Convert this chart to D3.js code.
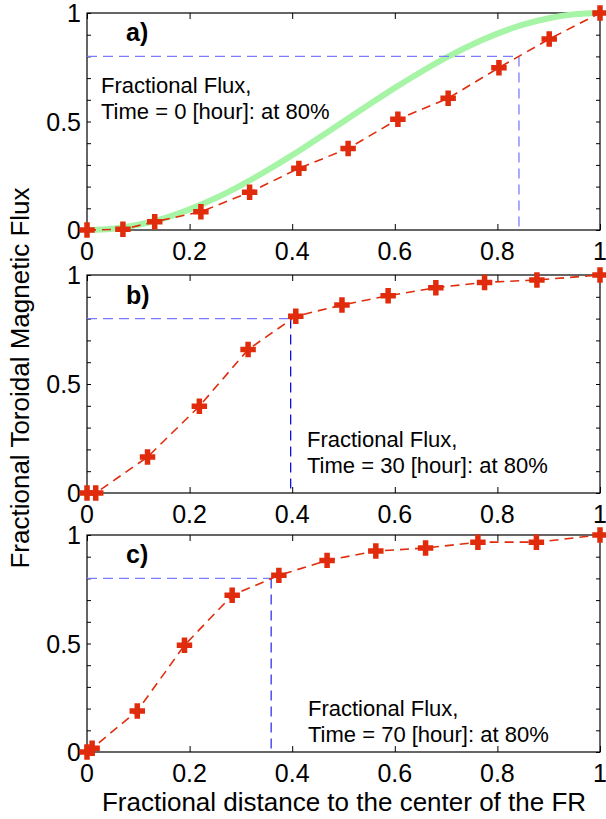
<!DOCTYPE html>
<html>
<head>
<meta charset="utf-8">
<script src="https://cdn.jsdelivr.net/npm/d3@7"></script>
<style>
  body { margin: 0; background: #fff; }
  text { font-family: "Liberation Sans", Arial, sans-serif; }
</style>
</head>
<body>
<div id="chart"></div>
<script>
// Chart data
const xA = [0, 0.07, 0.132, 0.222, 0.317, 0.413, 0.509, 0.606, 0.704, 0.803, 0.901, 1.0]
const yA = [0, 0.003, 0.038, 0.084, 0.174, 0.284, 0.376, 0.51, 0.607, 0.748, 0.88, 1.0]

const xB = [0, 0.017, 0.118, 0.219, 0.314, 0.407, 0.497, 0.587, 0.68, 0.775, 0.877, 1.0]
const yB = [0, 0, 0.165, 0.398, 0.658, 0.811, 0.862, 0.905, 0.942, 0.966, 0.977, 1.0]

const xC = [0, 0.01, 0.098, 0.19, 0.283, 0.374, 0.468, 0.563, 0.66, 0.762, 0.876, 1.0]
const yC = [0, 0.017, 0.189, 0.492, 0.722, 0.814, 0.883, 0.926, 0.94, 0.967, 0.967, 1.0]

// smooth green reference curve in panel a
const xGreen = [0, 0.05, 0.1, 0.15, 0.2, 0.25, 0.3, 0.35, 0.4, 0.45, 0.5, 0.55, 0.6, 0.65, 0.7, 0.75, 0.8, 0.85, 0.9, 0.95, 1.0]
const yGreen = [0, 0.006, 0.024, 0.054, 0.095, 0.146, 0.206, 0.273, 0.345, 0.422, 0.5, 0.578, 0.655, 0.727, 0.794, 0.854, 0.905, 0.946, 0.976, 0.994, 1.0]

// 80% crossing point of each panel
const crossX = [0.842, 0.397, 0.359]
const crossY = 0.8

const panelNames = ["a)", "b)", "c)"]
const hours = [0, 30, 70]
const xTicks = [0, 0.2, 0.4, 0.6, 0.8, 1]
const yTicks = [0, 0.5, 1]
const yTickLabels = ["0", "0.5", "1"]

const svgWidth = 606
const svgHeight = 819

let svg = d3
  .select("#chart")
  .append("svg")
  .attr("width", svgWidth)
  .attr("height", svgHeight)

let xScale = d3.scaleLinear().domain([0, 1]).range([87, 600])

// pixel extents of the three panels
const panels = [
  { top: 13, bottom: 230, xs: xA, ys: yA, noteX: 101, noteY: 93, labelY: 41, vColor: "#7b7bff" },
  { top: 275, bottom: 493, xs: xB, ys: yB, noteX: 307, noteY: 447, labelY: 304, vColor: "#1010dd" },
  { top: 535, bottom: 752, xs: xC, ys: yC, noteX: 308, noteY: 716, labelY: 563, vColor: "#3535f0" }
]

const red = "#e02c0c"

panels.forEach((p, i) => {
  let yScale = d3.scaleLinear().domain([0, 1]).range([p.bottom, p.top])
  let g = svg.append("g")

  // frame
  g.append("rect")
    .attr("x", xScale(0))
    .attr("y", yScale(1))
    .attr("width", xScale(1) - xScale(0))
    .attr("height", yScale(0) - yScale(1))
    .attr("fill", "none")
    .attr("stroke", "#000")
    .attr("stroke-width", 1.2)

  // axes with inward ticks
  let minorY = d3.range(0, 11).map(d => d / 10)
  g.append("g")
    .attr("transform", `translate(0, ${p.bottom})`)
    .call(d3.axisTop(xScale).tickValues(xTicks).tickSize(6).tickFormat(""))
  g.append("g")
    .attr("transform", `translate(0, ${p.top})`)
    .call(d3.axisBottom(xScale).tickValues(xTicks).tickSize(6).tickFormat(""))
  g.append("g")
    .attr("transform", `translate(${xScale(0)}, 0)`)
    .call(d3.axisRight(yScale).tickValues(minorY).tickSize(4).tickFormat(""))
  g.append("g")
    .attr("transform", `translate(${xScale(1)}, 0)`)
    .call(d3.axisLeft(yScale).tickValues(minorY).tickSize(4).tickFormat(""))
  g.selectAll(".domain").remove()
  g.selectAll(".tick line").attr("stroke", "#000")

  // tick labels
  g.selectAll(".xlab")
    .data(xTicks)
    .enter()
    .append("text")
    .attr("x", d => xScale(d))
    .attr("y", p.bottom + 30)
    .attr("text-anchor", "middle")
    .attr("font-size", 25)
    .text(d => d === 0 ? "0" : d === 1 ? "1" : d3.format(".1f")(d))
  g.selectAll(".ylab")
    .data(yTicks)
    .enter()
    .append("text")
    .attr("x", xScale(0) - 6)
    .attr("y", d => yScale(d) + 9)
    .attr("text-anchor", "end")
    .attr("font-size", 25)
    .text((d, j) => yTickLabels[j])

  // green curve only in panel a
  if (i === 0) {
    g.append("path")
      .datum(xGreen.map((x, j) => [x, yGreen[j]]))
      .attr("fill", "none")
      .attr("stroke", "#a6f5a6")
      .attr("stroke-width", 6)
      .attr("d", d3.line().x(d => xScale(d[0])).y(d => yScale(d[1])).curve(d3.curveMonotoneX))
  }

  // blue dashed guides
  g.append("line")
    .attr("x1", xScale(0))
    .attr("x2", xScale(crossX[i]))
    .attr("y1", yScale(crossY))
    .attr("y2", yScale(crossY))
    .attr("stroke", "#7b7bff")
    .attr("stroke-width", 1.3)
    .attr("stroke-dasharray", "10,6")
  g.append("line")
    .attr("x1", xScale(crossX[i]))
    .attr("x2", xScale(crossX[i]))
    .attr("y1", yScale(crossY))
    .attr("y2", yScale(0))
    .attr("stroke", p.vColor)
    .attr("stroke-width", 1.3)
    .attr("stroke-dasharray", "10,6")

  // red dashed line through the markers
  let pts = p.xs.map((x, j) => [x, p.ys[j]])
  g.append("path")
    .datum(pts)
    .attr("fill", "none")
    .attr("stroke", red)
    .attr("stroke-width", 1.6)
    .attr("stroke-dasharray", "9,6")
    .attr("d", d3.line().x(d => xScale(d[0])).y(d => yScale(d[1])))

  g.selectAll(".mark")
    .data(pts)
    .enter()
    .append("path")
    .attr("transform", d => `translate(${xScale(d[0])}, ${yScale(d[1])})`)
    .attr("d", d3.symbol(d3.symbolPlus, 80))
    .attr("fill", "none")
    .attr("stroke", red)
    .attr("stroke-width", 5.5)

  // panel label and note
  g.append("text")
    .attr("x", 126)
    .attr("y", p.labelY)
    .attr("font-size", 25)
    .attr("font-weight", "bold")
    .text(panelNames[i])
  g.append("text")
    .attr("x", p.noteX)
    .attr("y", p.noteY)
    .attr("font-size", 22)
    .text("Fractional Flux,")
  g.append("text")
    .attr("x", p.noteX)
    .attr("y", p.noteY + 26)
    .attr("font-size", 22)
    .text(`Time = ${hours[i]} [hour]: at 80%`)
})

// axis titles
svg.append("text")
  .attr("x", 344)
  .attr("y", 811)
  .attr("text-anchor", "middle")
  .attr("font-size", 26)
  .text("Fractional distance to the center of the FR")

svg.append("text")
  .attr("transform", "translate(29, 378) rotate(-90)")
  .attr("text-anchor", "middle")
  .attr("font-size", 26)
  .text("Fractional Toroidal Magnetic Flux")
</script>
</body>
</html>
